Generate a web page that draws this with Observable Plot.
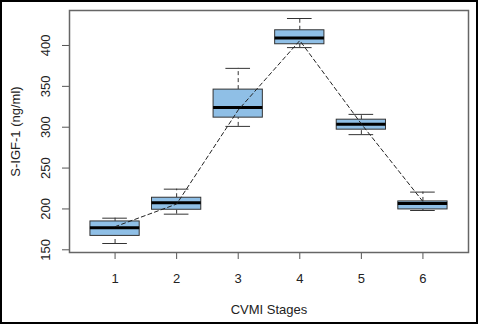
<!DOCTYPE html>
<html>
<head>
<meta charset="utf-8">
<script src="https://cdn.jsdelivr.net/npm/d3@7"></script>
<script src="https://cdn.jsdelivr.net/npm/@observablehq/plot@0.6"></script>
<style>
  html, body { margin: 0; padding: 0; background: #fff; }
  #wrap { position: relative; width: 478px; height: 324px; }
  #wrap::after { content: ""; position: absolute; left: 0; top: 0; right: 0; bottom: 0; border: 2px solid #000; pointer-events: none; }
  svg { display: block; }
</style>
</head>
<body>
<div id="wrap"></div>
<script>
const stages = [1, 2, 3, 4, 5, 6];
const whiskerLow  = [157.7, 193.6, 301.0, 397.4, 290.9, 198.1];
const q1          = [167.0, 199.0, 311.7, 401.5, 297.0, 199.4];
const median      = [177.0, 207.5, 324.0, 409.2, 303.5, 206.7];
const q3          = [184.7, 213.7, 346.0, 418.6, 309.2, 209.2];
const whiskerHigh = [188.7, 224.2, 372.0, 433.0, 315.7, 220.6];
const means       = [178.3, 206.0, 321.0, 406.0, 304.0, 209.0];
const yTicks = [150, 200, 250, 300, 350, 400];

const data = stages.map((s, i) => ({
  stage: s, lo: whiskerLow[i], q1: q1[i], med: median[i], q3: q3[i], hi: whiskerHigh[i], mean: means[i]
}));

const boxHalf = 0.4, capHalf = 0.2;

const chart = Plot.plot({
  width: 478,
  height: 324,
  marginLeft: 69,
  marginRight: 10,
  marginTop: 10,
  marginBottom: 72,
  style: { fontFamily: "'Liberation Sans', Arial, sans-serif", fontSize: "13px", color: "#222", background: "#fff" },
  x: { domain: [0.26, 6.74] },
  y: { domain: [146.7, 442.8] },
  marks: [
    Plot.axisX(stages, { tickSize: 7, tickPadding: 14, stroke: "#555", fontSize: 13, label: "CVMI Stages", labelAnchor: "center", labelArrow: "none", labelOffset: 61, tickFormat: d => String(d) }),
    Plot.axisY(yTicks, { tickSize: 7, tickFormat: () => "", stroke: "#555", fontSize: 13, label: "S-IGF-1 (ng/ml)", labelAnchor: "center", labelArrow: "none", labelOffset: 59 }),
    Plot.text(yTicks, { y: d => d, text: d => String(d), frameAnchor: "left", rotate: -90, textAnchor: "middle", lineAnchor: "middle", dx: -23.5, fontSize: 13, fill: "#222" }),
    // whiskers (dashed)
    Plot.ruleX(data, { x: "stage", y1: "q3", y2: "hi", stroke: "#333", strokeDasharray: "4,3" }),
    Plot.ruleX(data, { x: "stage", y1: "lo", y2: "q1", stroke: "#333", strokeDasharray: "4,3" }),
    // whisker caps
    Plot.ruleY(data, { y: "hi", x1: d => d.stage - capHalf, x2: d => d.stage + capHalf, stroke: "#333" }),
    Plot.ruleY(data, { y: "lo", x1: d => d.stage - capHalf, x2: d => d.stage + capHalf, stroke: "#333" }),
    // boxes
    Plot.rect(data, { x1: d => d.stage - boxHalf, x2: d => d.stage + boxHalf, y1: "q1", y2: "q3", fill: "#8fbfe6", stroke: "#333", strokeWidth: 1 }),
    // medians
    Plot.ruleY(data, { y: "med", x1: d => d.stage - boxHalf, x2: d => d.stage + boxHalf, stroke: "#000", strokeWidth: 3 }),
    // mean line
    Plot.line(data, { x: "stage", y: "mean", stroke: "#222", strokeDasharray: "4,3", strokeWidth: 1 }),
    Plot.frame({ stroke: "#666", strokeWidth: 1.5 })
  ]
});
document.getElementById("wrap").appendChild(chart);
</script>
</body>
</html>
